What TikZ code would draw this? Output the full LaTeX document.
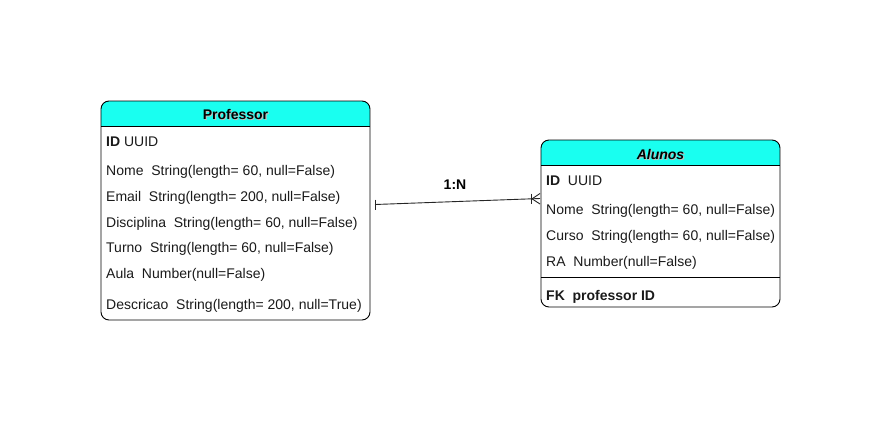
\documentclass[tikz,border=0pt]{standalone}
\usepackage{fontspec}
\setmainfont{Liberation Sans}
\definecolor{hdr}{HTML}{19FFF0}
\definecolor{txt}{HTML}{1A1A1A}
\begin{document}
\begin{tikzpicture}[x=1pt,y=-1pt,
  box/.style={draw=black,line width=0.9pt,rounded corners=8pt},
  fld/.style={anchor=west,font=\fontsize{14}{16}\selectfont,text=txt,inner sep=0pt},
  ttl/.style={font=\fontsize{14}{16}\selectfont\bfseries,inner sep=0pt},
  conn/.style={draw=black!85,line width=0.9pt}]
\useasboundingbox (0,0) rectangle (881,421);
% Professor
\begin{scope}
\clip[rounded corners=8pt] (101,101) rectangle (370,320);
\fill[hdr] (101,101) rectangle (370,126);
\end{scope}
\draw[box] (101,101) rectangle (370,320);
\draw[line width=0.9pt] (101,126) -- (370,126);
\node[ttl,text=black!25] at (236.6,115.1) {Professor};
\node[ttl] (prof) at (235.5,114) {Professor};
\coordinate (profE) at (370,205);
\node[fld] (p1) at (106,141.5) {\textbf{ID} UUID};
\node[fld] (p2) at (106,171.5) {Nome\ \ String(length= 60, null=False)};
\node[fld] (p3) at (106,197.5) {Email\ \ String(length= 200, null=False)};
\node[fld] (p4) at (106,223.5) {Disciplina\ \ String(length= 60, null=False)};
\node[fld] (p5) at (106,248.5) {Turno\ \ String(length= 60, null=False)};
\node[fld] (p6) at (106,274.5) {Aula\ \ Number(null=False)};
\node[fld] (p7) at (106,305.5) {Descricao\ \ String(length= 200, null=True)};
% Alunos
\begin{scope}
\clip[rounded corners=8pt] (541,140) rectangle (780,307);
\fill[hdr] (541,140) rectangle (780,165);
\end{scope}
\draw[box] (541,140) rectangle (780,307);
\draw[line width=0.9pt] (541,165) -- (780,165);
\draw[line width=0.9pt] (541,277) -- (780,277);
\node[ttl,text=black!25] at (661.6,155.1) {\itshape Alunos};
\node[ttl] (alu) at (660.5,154) {\itshape Alunos};
\node[fld] (a1) at (546,180.5) {\textbf{ID}\ \ UUID};
\node[fld] (a2) at (546,210.5) {Nome\ \ String(length= 60, null=False)};
\node[fld] (a3) at (546,236.5) {Curso\ \ String(length= 60, null=False)};
\node[fld] (a4) at (546,262.5) {RA\ \ Number(null=False)};
\node[fld] (a5) at (546,296.5) {\textbf{FK\ \ professor ID}};
% connector
\coordinate (cs) at (375,204.5);
\coordinate (ce) at (540,198.5);
\draw[conn] (cs) -- (ce);
\draw[conn] (375,199.5) -- (375,209.5);
\draw[conn] (531,193.5) -- (531,203.5);
\draw[conn] (540,193.5) -- (532,198.8) -- (540,204);
\node[ttl] (lbl) at (455,185) {1:N};
\end{tikzpicture}
\end{document}
